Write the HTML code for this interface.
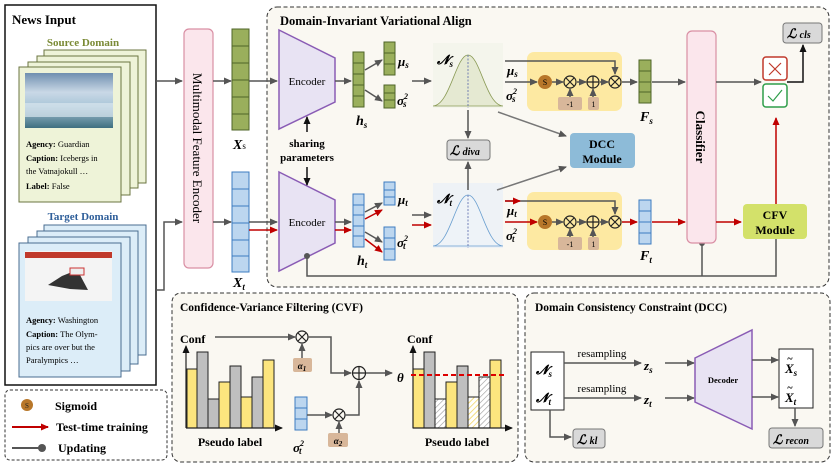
<!DOCTYPE html>
<html><head><meta charset="utf-8"><style>
html,body{margin:0;padding:0;background:#fff;}
svg{display:block;}
text{font-family:"Liberation Serif",serif;}
.b{font-weight:bold;}
.m{font-weight:bold;font-style:italic;}
</style></head><body>
<svg width="836" height="470" viewBox="0 0 836 470" xmlns="http://www.w3.org/2000/svg">
<defs>
<marker id="ag" markerWidth="8" markerHeight="8" refX="7" refY="4" orient="auto" markerUnits="userSpaceOnUse"><path d="M0,0.5 L8,4 L0,7.5 z" fill="#555"/></marker>
<marker id="ar" markerWidth="8" markerHeight="8" refX="7" refY="4" orient="auto" markerUnits="userSpaceOnUse"><path d="M0,0.5 L8,4 L0,7.5 z" fill="#c00000"/></marker>
<marker id="ak" markerWidth="8" markerHeight="8" refX="7" refY="4" orient="auto" markerUnits="userSpaceOnUse"><path d="M0,0.5 L8,4 L0,7.5 z" fill="#111"/></marker>
<linearGradient id="sky" x1="0" y1="0" x2="0" y2="1"><stop offset="0" stop-color="#6f8fb0"/><stop offset="0.35" stop-color="#c9d8e6"/><stop offset="0.6" stop-color="#a9c6d8"/><stop offset="1" stop-color="#3f6f80"/></linearGradient>
<pattern id="hg" width="4" height="4" patternUnits="userSpaceOnUse" patternTransform="rotate(45)"><rect width="4" height="4" fill="#fff"/><line x1="0" y1="0" x2="0" y2="4" stroke="#999" stroke-width="1.2"/></pattern>
<pattern id="hy" width="4" height="4" patternUnits="userSpaceOnUse" patternTransform="rotate(45)"><rect width="4" height="4" fill="#fff"/><line x1="0" y1="0" x2="0" y2="4" stroke="#f0d050" stroke-width="1.4"/></pattern>
</defs>

<rect x="5" y="5" width="151" height="380" fill="#fff" stroke="#111" stroke-width="1.5"/>
<text x="12" y="24" class="b" font-size="13">News Input</text>
<text x="83" y="46" class="b" font-size="11" fill="#7a8a35" text-anchor="middle">Source Domain</text>
<g fill="#eef3d8" stroke="#6b7540" stroke-width="1">
<rect x="44" y="50" width="102" height="133"/>
<rect x="37" y="56" width="101" height="132"/>
<rect x="28" y="62" width="102" height="133"/>
<rect x="19" y="67" width="102" height="135"/>
</g>
<rect x="25" y="73" width="88" height="55" fill="url(#sky)"/>
<rect x="25" y="103" width="88" height="14" fill="#d8e6ee" opacity="0.7"/>
<text x="26" y="147" font-size="8.5"><tspan class="b">Agency:</tspan> Guardian</text>
<text x="26" y="161" font-size="8.5"><tspan class="b">Caption:</tspan> Icebergs in</text>
<text x="26" y="174" font-size="8.5">the Vatnajokull …</text>
<text x="26" y="189" font-size="8.5"><tspan class="b">Label:</tspan> False</text>

<text x="83" y="220" class="b" font-size="11" fill="#2f5f9a" text-anchor="middle">Target Domain</text>
<g fill="#dcedf8" stroke="#4a6d90" stroke-width="1">
<rect x="44" y="225" width="102" height="130"/>
<rect x="37" y="231" width="101" height="133"/>
<rect x="28" y="237" width="102" height="134"/>
<rect x="19" y="243" width="102" height="134"/>
</g>
<rect x="25" y="251" width="87" height="50" fill="#f4f4f4"/>
<rect x="25" y="252" width="87" height="6" fill="#c0392b"/>
<path d="M48,285 L62,276 L72,272 L80,275 L88,290 L70,289 Z" fill="#333"/>
<rect x="70" y="268" width="14" height="7" fill="#eee" stroke="#c33" stroke-width="1"/>
<text x="26" y="323" font-size="8.5"><tspan class="b">Agency:</tspan> Washington</text>
<text x="26" y="337" font-size="8.5"><tspan class="b">Caption:</tspan> The Olym-</text>
<text x="26" y="350" font-size="8.5">pics are over but  the</text>
<text x="26" y="363" font-size="8.5">Paralympics …</text>

<rect x="5" y="390" width="162" height="70" rx="5" fill="#fff" stroke="#333" stroke-dasharray="3,2"/>
<circle cx="27" cy="405" r="6" fill="#b8772a"/><text x="27" y="408" font-size="7" text-anchor="middle" fill="#222">S</text>
<text x="55" y="410" class="b" font-size="12">Sigmoid</text>
<line x1="12" y1="427" x2="48" y2="427" stroke="#c00000" stroke-width="2" marker-end="url(#ar)"/>
<text x="56" y="431" class="b" font-size="12">Test-time training</text>
<line x1="12" y1="448" x2="42" y2="448" stroke="#555" stroke-width="2"/><circle cx="42" cy="448" r="4" fill="#555"/>
<text x="58" y="452" class="b" font-size="12">Updating</text>

<line x1="156" y1="81" x2="182" y2="81" stroke="#555" stroke-width="1.5" marker-end="url(#ag)"/>
<polyline points="156,290 164,290 164,222 182,222" fill="none" stroke="#555" stroke-width="1.5" marker-end="url(#ag)"/>

<rect x="184" y="29" width="29" height="239" rx="5" fill="#fbe6ec" stroke="#d98fa4" stroke-width="1.2"/>
<text transform="translate(193,148) rotate(90)" font-size="13" text-anchor="middle">Multimodal Feature Encoder</text>

<g stroke="#4f6428" fill="#9aaf5c" stroke-width="1">
<rect x="232" y="29" width="17" height="17"/><rect x="232" y="46" width="17" height="17"/><rect x="232" y="63" width="17" height="17"/><rect x="232" y="80" width="17" height="17"/><rect x="232" y="97" width="17" height="17"/><rect x="232" y="114" width="17" height="16"/>
</g>
<g stroke="#3d7cc0" fill="#bcd6ef" stroke-width="1">
<rect x="232" y="172" width="17" height="17"/><rect x="232" y="189" width="17" height="17"/><rect x="232" y="206" width="17" height="17"/><rect x="232" y="223" width="17" height="17"/><rect x="232" y="240" width="17" height="16"/><rect x="232" y="256" width="17" height="16"/>
</g>
<text x="233" y="149" class="m" font-size="14">X<tspan font-size="9" font-style="normal" font-weight="normal">s</tspan></text>
<text x="233" y="287" class="m" font-size="14">X<tspan font-size="9" dy="3">t</tspan></text>
<line x1="213" y1="81" x2="231" y2="81" stroke="#555" stroke-width="1.5" marker-end="url(#ag)"/>
<line x1="213" y1="222" x2="231" y2="222" stroke="#555" stroke-width="1.5" marker-end="url(#ag)"/>

<rect x="267" y="7" width="562" height="280" rx="10" fill="#faf8f2" stroke="#333" stroke-dasharray="4,2.5"/>
<text x="280" y="25" class="b" font-size="12.5">Domain-Invariant Variational Align</text>
<line x1="249" y1="81" x2="277" y2="81" stroke="#555" stroke-width="1.5" marker-end="url(#ag)"/>
<line x1="249" y1="222" x2="277" y2="222" stroke="#555" stroke-width="1.5" marker-end="url(#ag)"/>
<line x1="249" y1="230" x2="277" y2="230" stroke="#c00000" stroke-width="1.5" marker-end="url(#ar)"/>

<polygon points="279,30 335,58 335,102 279,129" fill="#e8e3f3" stroke="#8a5cb5" stroke-width="1.5"/>
<text x="307" y="85" font-size="11" text-anchor="middle">Encoder</text>
<polygon points="279,172 335,200 335,243 279,271" fill="#e8e3f3" stroke="#8a5cb5" stroke-width="1.5"/>
<text x="307" y="226" font-size="11" text-anchor="middle">Encoder</text>
<text x="307" y="147" class="b" font-size="11" text-anchor="middle">sharing</text>
<text x="307" y="161" class="b" font-size="11" text-anchor="middle">parameters</text>
<line x1="307" y1="132" x2="307" y2="117" stroke="#111" stroke-width="1.5" marker-end="url(#ak)"/>
<line x1="307" y1="167" x2="307" y2="185" stroke="#111" stroke-width="1.5" marker-end="url(#ak)"/>

<line x1="335" y1="81" x2="351" y2="81" stroke="#555" stroke-width="1.5" marker-end="url(#ag)"/>
<line x1="335" y1="222" x2="351" y2="222" stroke="#555" stroke-width="1.5" marker-end="url(#ag)"/>
<line x1="335" y1="230" x2="351" y2="230" stroke="#c00000" stroke-width="1.5" marker-end="url(#ar)"/>

<g stroke="#4f6428" fill="#9aaf5c" stroke-width="1">
<rect x="353" y="52" width="11" height="11"/><rect x="353" y="63" width="11" height="11"/><rect x="353" y="74" width="11" height="11"/><rect x="353" y="85" width="11" height="11"/><rect x="353" y="96" width="11" height="11"/>
<rect x="384" y="42" width="11" height="11"/><rect x="384" y="53" width="11" height="11"/><rect x="384" y="64" width="11" height="11"/>
<rect x="384" y="85" width="11" height="8"/><rect x="384" y="93" width="11" height="7"/><rect x="384" y="100" width="11" height="8"/>
</g>
<line x1="365" y1="70" x2="382" y2="60" stroke="#555" stroke-width="1.5" marker-end="url(#ag)"/>
<line x1="365" y1="90" x2="382" y2="101" stroke="#555" stroke-width="1.5" marker-end="url(#ag)"/>
<text x="398" y="66" class="m" font-size="13">μ<tspan font-size="9" dy="2">s</tspan></text>
<text x="397" y="105" class="m" font-size="13">σ<tspan font-size="8" dy="-6">2</tspan><tspan font-size="9" dx="-5" dy="8">s</tspan></text>
<text x="356" y="125" class="m" font-size="14">h<tspan font-size="9" dy="3">s</tspan></text>

<g stroke="#3d7cc0" fill="#bcd6ef" stroke-width="1">
<rect x="353" y="194" width="11" height="11"/><rect x="353" y="205" width="11" height="10"/><rect x="353" y="215" width="11" height="11"/><rect x="353" y="226" width="11" height="10"/><rect x="353" y="236" width="11" height="11"/>
<rect x="384" y="182" width="11" height="8"/><rect x="384" y="190" width="11" height="7"/><rect x="384" y="197" width="11" height="8"/>
<rect x="384" y="227" width="11" height="11"/><rect x="384" y="238" width="11" height="11"/><rect x="384" y="249" width="11" height="11"/>
</g>
<line x1="365" y1="212" x2="382" y2="203" stroke="#555" stroke-width="1.5" marker-end="url(#ag)"/>
<line x1="365" y1="219" x2="382" y2="210" stroke="#c00000" stroke-width="1.5" marker-end="url(#ar)"/>
<line x1="365" y1="232" x2="382" y2="242" stroke="#555" stroke-width="1.5" marker-end="url(#ag)"/>
<line x1="365" y1="239" x2="382" y2="252" stroke="#c00000" stroke-width="1.5" marker-end="url(#ar)"/>
<text x="398" y="204" class="m" font-size="13">μ<tspan font-size="9" dy="2">t</tspan></text>
<text x="397" y="247" class="m" font-size="13">σ<tspan font-size="8" dy="-6">2</tspan><tspan font-size="9" dx="-5" dy="8">t</tspan></text>
<text x="357" y="265" class="m" font-size="14">h<tspan font-size="9" dy="3">t</tspan></text>

<polyline points="307,256 307,276 776,276 776,239" fill="none" stroke="#555" stroke-width="1.5"/>
<circle cx="307" cy="256" r="3" fill="#555"/>
<line x1="702" y1="243" x2="702" y2="276" stroke="#555" stroke-width="1.5"/>
<circle cx="702" cy="243" r="3" fill="#555"/>

<line x1="412" y1="81" x2="431" y2="81" stroke="#555" stroke-width="1.5" marker-end="url(#ag)"/>
<line x1="412" y1="215" x2="431" y2="215" stroke="#555" stroke-width="1.5" marker-end="url(#ag)"/>
<line x1="412" y1="225" x2="431" y2="225" stroke="#c00000" stroke-width="1.5" marker-end="url(#ar)"/>
<rect x="433" y="43" width="70" height="65" fill="#f4f5ec"/>
<path d="M433,106 C450,105 456,55 468,55 C480,55 486,105 503,106 Z" fill="#e5e9d2" stroke="#8a9a55" stroke-width="0.8"/>
<line x1="468" y1="55" x2="468" y2="108" stroke="#5566aa" stroke-dasharray="2,1.5" stroke-width="0.8"/>
<text x="437" y="64" class="m" font-size="13">𝓝<tspan font-size="9" dy="3">s</tspan></text>
<rect x="433" y="183" width="70" height="65" fill="#eef2f6"/>
<path d="M433,246 C450,245 456,195 468,195 C480,195 486,245 503,246 Z" fill="#eef3f8" stroke="#6a9fd0" stroke-width="0.8"/>
<line x1="468" y1="195" x2="468" y2="248" stroke="#5566aa" stroke-dasharray="2,1.5" stroke-width="0.8"/>
<text x="437" y="203" class="m" font-size="13">𝓝<tspan font-size="9" dy="3">t</tspan></text>
<line x1="468" y1="110" x2="468" y2="138" stroke="#555" stroke-width="1.5" marker-end="url(#ag)"/>
<line x1="468" y1="190" x2="468" y2="162" stroke="#555" stroke-width="1.5" marker-end="url(#ag)"/>
<rect x="447" y="140" width="43" height="20" rx="3" fill="#d9d9d9" stroke="#777"/>
<text x="450" y="155" class="m" font-size="13">ℒ <tspan font-size="10">diva</tspan></text>
<line x1="498" y1="112" x2="566" y2="136" stroke="#777" stroke-width="1.5" marker-end="url(#ag)"/>
<line x1="497" y1="190" x2="566" y2="167" stroke="#777" stroke-width="1.5" marker-end="url(#ag)"/>
<rect x="570" y="133" width="65" height="35" rx="4" fill="#8dbbd8"/>
<text x="602" y="148" class="b" font-size="12" text-anchor="middle">DCC</text>
<text x="602" y="163" class="b" font-size="12" text-anchor="middle">Module</text>

<rect x="527" y="52" width="95" height="59" rx="7" fill="#fde9a2"/>
<rect x="527" y="192" width="95" height="58" rx="7" fill="#fde9a2"/>
<polyline points="505,61 615,61 615,74" fill="none" stroke="#555" stroke-width="1.5" marker-end="url(#ag)"/>
<line x1="505" y1="82" x2="537" y2="82" stroke="#555" stroke-width="1.5" marker-end="url(#ag)"/>
<line x1="552" y1="82" x2="563" y2="82" stroke="#555" stroke-width="1.5" marker-end="url(#ag)"/>
<line x1="577" y1="82" x2="586" y2="82" stroke="#555" stroke-width="1.5" marker-end="url(#ag)"/>
<line x1="600" y1="82" x2="608" y2="82" stroke="#555" stroke-width="1.5" marker-end="url(#ag)"/>
<line x1="622" y1="82" x2="637" y2="82" stroke="#555" stroke-width="1.5" marker-end="url(#ag)"/>
<circle cx="545" cy="82" r="7" fill="#b8772a"/><text x="545" y="85" font-size="8" text-anchor="middle">S</text>
<g fill="none" stroke="#222" stroke-width="1.2">
<circle cx="570" cy="82" r="6"/><path d="M566,78 L574,86 M574,78 L566,86"/>
<circle cx="593" cy="82" r="6"/><path d="M587,82 L599,82 M593,76 L593,88"/>
<circle cx="615" cy="82" r="6"/><path d="M611,78 L619,86 M619,78 L611,86"/>
</g>
<rect x="558" y="97" width="24" height="13" rx="2" fill="#d8b79a"/><text x="570" y="107" font-size="8" text-anchor="middle">-1</text>
<rect x="588" y="97" width="11" height="13" rx="2" fill="#d8b79a"/><text x="593.5" y="107" font-size="8" text-anchor="middle">1</text>
<line x1="570" y1="97" x2="570" y2="89" stroke="#555" stroke-width="1.5" marker-end="url(#ag)"/>
<line x1="593" y1="97" x2="593" y2="89" stroke="#555" stroke-width="1.5" marker-end="url(#ag)"/>
<text x="507" y="75" class="m" font-size="13">μ<tspan font-size="9" dy="2">s</tspan></text>
<text x="506" y="100" class="m" font-size="13">σ<tspan font-size="8" dy="-6">2</tspan><tspan font-size="9" dx="-5" dy="8">s</tspan></text>
<polyline points="505,201 615,201 615,214" fill="none" stroke="#555" stroke-width="1.5" marker-end="url(#ag)"/>
<line x1="505" y1="201" x2="520" y2="201" stroke="#c00000" stroke-width="1.5" marker-end="url(#ar)"/>
<line x1="505" y1="222" x2="537" y2="222" stroke="#c00000" stroke-width="1.5" marker-end="url(#ar)"/>
<line x1="552" y1="222" x2="563" y2="222" stroke="#555" stroke-width="1.5" marker-end="url(#ag)"/>
<line x1="577" y1="222" x2="586" y2="222" stroke="#555" stroke-width="1.5" marker-end="url(#ag)"/>
<line x1="600" y1="222" x2="608" y2="222" stroke="#555" stroke-width="1.5" marker-end="url(#ag)"/>
<line x1="622" y1="222" x2="637" y2="222" stroke="#c00000" stroke-width="1.5" marker-end="url(#ar)"/>
<circle cx="545" cy="222" r="7" fill="#b8772a"/><text x="545" y="225" font-size="8" text-anchor="middle">S</text>
<g fill="none" stroke="#222" stroke-width="1.2">
<circle cx="570" cy="222" r="6"/><path d="M566,218 L574,226 M574,218 L566,226"/>
<circle cx="593" cy="222" r="6"/><path d="M587,222 L599,222 M593,216 L593,228"/>
<circle cx="615" cy="222" r="6"/><path d="M611,218 L619,226 M619,218 L611,226"/>
</g>
<rect x="558" y="237" width="24" height="13" rx="2" fill="#d8b79a"/><text x="570" y="247" font-size="8" text-anchor="middle">-1</text>
<rect x="588" y="237" width="11" height="13" rx="2" fill="#d8b79a"/><text x="593.5" y="247" font-size="8" text-anchor="middle">1</text>
<line x1="570" y1="237" x2="570" y2="229" stroke="#555" stroke-width="1.5" marker-end="url(#ag)"/>
<line x1="593" y1="237" x2="593" y2="229" stroke="#555" stroke-width="1.5" marker-end="url(#ag)"/>
<text x="507" y="215" class="m" font-size="13">μ<tspan font-size="9" dy="2">t</tspan></text>
<text x="506" y="240" class="m" font-size="13">σ<tspan font-size="8" dy="-6">2</tspan><tspan font-size="9" dx="-5" dy="8">t</tspan></text>

<g stroke="#4f6428" fill="#9aaf5c" stroke-width="1">
<rect x="639" y="60" width="12" height="11"/><rect x="639" y="71" width="12" height="11"/><rect x="639" y="82" width="12" height="10"/><rect x="639" y="92" width="12" height="11"/>
</g>
<g stroke="#3d7cc0" fill="#bcd6ef" stroke-width="1">
<rect x="639" y="200" width="12" height="11"/><rect x="639" y="211" width="12" height="11"/><rect x="639" y="222" width="12" height="11"/><rect x="639" y="233" width="12" height="11"/>
</g>
<text x="640" y="121" class="m" font-size="14">F<tspan font-size="9" dy="3">s</tspan></text>
<text x="640" y="260" class="m" font-size="14">F<tspan font-size="9" dy="3">t</tspan></text>
<line x1="652" y1="82" x2="685" y2="82" stroke="#555" stroke-width="1.5" marker-end="url(#ag)"/>
<line x1="652" y1="222" x2="685" y2="222" stroke="#c00000" stroke-width="1.5" marker-end="url(#ar)"/>

<rect x="687" y="31" width="29" height="212" rx="5" fill="#fbe6ec" stroke="#d98fa4" stroke-width="1.2"/>
<text transform="translate(696,137) rotate(90)" class="b" font-size="13" text-anchor="middle">Classifier</text>
<line x1="716" y1="82" x2="761" y2="82" stroke="#555" stroke-width="1.5" marker-end="url(#ag)"/>
<line x1="716" y1="222" x2="741" y2="222" stroke="#c00000" stroke-width="1.5" marker-end="url(#ar)"/>
<rect x="763" y="57" width="24" height="23" rx="3" fill="#fff" stroke="#c0392b" stroke-width="1.5"/>
<path d="M769,63 L781,75 M781,63 L769,75" stroke="#c0392b" stroke-width="1.2"/>
<rect x="763" y="84" width="24" height="23" rx="3" fill="#fff" stroke="#2e9e4a" stroke-width="1.5"/>
<path d="M768,96 L773,101 L782,90" fill="none" stroke="#2e9e4a" stroke-width="1.2"/>
<polyline points="787,82 803,82 803,45" fill="none" stroke="#111" stroke-width="1.5" marker-end="url(#ak)"/>
<rect x="783" y="23" width="39" height="20" rx="3" fill="#d9d9d9" stroke="#777"/>
<text x="787" y="38" class="m" font-size="13">ℒ <tspan font-size="10">cls</tspan></text>
<rect x="743" y="204" width="64" height="35" rx="4" fill="#d3e16a"/>
<text x="775" y="219" class="b" font-size="12" text-anchor="middle">CFV</text>
<text x="775" y="234" class="b" font-size="12" text-anchor="middle">Module</text>
<line x1="776" y1="204" x2="776" y2="118" stroke="#c00000" stroke-width="1.5" marker-end="url(#ar)"/>

<rect x="172" y="293" width="346" height="169" rx="9" fill="#faf8f2" stroke="#333" stroke-dasharray="4,2.5"/>
<text x="180" y="311" class="b" font-size="11.5">Confidence-Variance Filtering (CVF)</text>
<text x="180" y="343" class="b" font-size="12">Conf</text>
<g stroke="#222" stroke-width="1">
<rect x="187" y="369" width="10" height="59" fill="#fce57e"/>
<rect x="197" y="352" width="11" height="76" fill="#bfbfbf"/>
<rect x="208" y="399" width="11" height="29" fill="#bfbfbf"/>
<rect x="219" y="382" width="11" height="46" fill="#fce57e"/>
<rect x="230" y="366" width="11" height="62" fill="#bfbfbf"/>
<rect x="241" y="397" width="11" height="31" fill="#fce57e"/>
<rect x="252" y="377" width="11" height="51" fill="#bfbfbf"/>
<rect x="263" y="360" width="11" height="68" fill="#fce57e"/>
</g>
<line x1="186" y1="428" x2="186" y2="346" stroke="#222" stroke-width="1.2" marker-end="url(#ak)"/>
<line x1="186" y1="428" x2="282" y2="428" stroke="#222" stroke-width="1.2" marker-end="url(#ak)"/>
<text x="230" y="446" class="b" font-size="12" text-anchor="middle">Pseudo label</text>
<line x1="215" y1="337" x2="295" y2="337" stroke="#555" stroke-width="1.5" marker-end="url(#ag)"/>
<g fill="none" stroke="#222" stroke-width="1.2">
<circle cx="302" cy="337" r="6"/><path d="M298,333 L306,341 M306,333 L298,341"/>
<circle cx="339" cy="415" r="6"/><path d="M335,411 L343,419 M343,411 L335,419"/>
<circle cx="359" cy="373" r="6.5"/><path d="M352.5,373 L365.5,373 M359,366.5 L359,379.5"/>
</g>
<rect x="293" y="358" width="19" height="14" rx="2" fill="#d8b79a"/><text x="302" y="369" class="m" font-size="9" text-anchor="middle">α<tspan font-size="7" dy="2">1</tspan></text>
<line x1="302" y1="358" x2="302" y2="344" stroke="#555" stroke-width="1.5" marker-end="url(#ag)"/>
<polyline points="308,337 331,337 331,373 351,373" fill="none" stroke="#555" stroke-width="1.5" marker-end="url(#ag)"/>
<g stroke="#3d7cc0" fill="#bcd6ef" stroke-width="1">
<rect x="295" y="397" width="12" height="11"/><rect x="295" y="408" width="12" height="11"/><rect x="295" y="419" width="12" height="11"/>
</g>
<text x="293" y="452" class="m" font-size="13">σ<tspan font-size="8" dy="-6">2</tspan><tspan font-size="9" dx="-5" dy="8">t</tspan></text>
<line x1="307" y1="415" x2="332" y2="415" stroke="#555" stroke-width="1.5" marker-end="url(#ag)"/>
<rect x="328" y="433" width="20" height="14" rx="2" fill="#d8b79a"/><text x="338" y="444" class="m" font-size="9" text-anchor="middle">α<tspan font-size="7" dy="2">2</tspan></text>
<line x1="339" y1="433" x2="339" y2="422" stroke="#555" stroke-width="1.5" marker-end="url(#ag)"/>
<polyline points="345,415 359,415 359,381" fill="none" stroke="#555" stroke-width="1.5" marker-end="url(#ag)"/>
<line x1="366" y1="373" x2="392" y2="373" stroke="#555" stroke-width="1.5" marker-end="url(#ag)"/>
<text x="397" y="382" class="m" font-size="13">θ</text>
<text x="407" y="343" class="b" font-size="12">Conf</text>
<g stroke="#222" stroke-width="1">
<rect x="413" y="369" width="11" height="59" fill="#fce57e"/>
<rect x="424" y="352" width="11" height="76" fill="#bfbfbf"/>
<rect x="435" y="399" width="11" height="29" fill="url(#hg)"/>
<rect x="446" y="382" width="11" height="46" fill="#fce57e"/>
<rect x="457" y="366" width="11" height="62" fill="#bfbfbf"/>
<rect x="468" y="397" width="11" height="31" fill="url(#hy)"/>
<rect x="479" y="377" width="11" height="51" fill="url(#hg)"/>
<rect x="490" y="360" width="11" height="68" fill="#fce57e"/>
</g>
<line x1="413" y1="428" x2="413" y2="346" stroke="#222" stroke-width="1.2" marker-end="url(#ak)"/>
<line x1="413" y1="428" x2="512" y2="428" stroke="#222" stroke-width="1.2" marker-end="url(#ak)"/>
<line x1="411" y1="375" x2="504" y2="375" stroke="#d00" stroke-width="2" stroke-dasharray="5,3"/>
<text x="457" y="446" class="b" font-size="12" text-anchor="middle">Pseudo label</text>

<rect x="525" y="293" width="305" height="169" rx="9" fill="#faf8f2" stroke="#333" stroke-dasharray="4,2.5"/>
<text x="535" y="311" class="b" font-size="11.5">Domain Consistency Constraint (DCC)</text>
<rect x="531" y="352" width="33" height="58" fill="#fff" stroke="#222"/>
<text x="536" y="374" class="m" font-size="13">𝓝<tspan font-size="9" dy="3">s</tspan></text>
<text x="536" y="402" class="m" font-size="13">𝓝<tspan font-size="9" dy="3">t</tspan></text>
<text x="602" y="357" font-size="11" text-anchor="middle">resampling</text>
<text x="602" y="392" font-size="11" text-anchor="middle">resampling</text>
<line x1="564" y1="363" x2="641" y2="363" stroke="#555" stroke-width="1.5" marker-end="url(#ag)"/>
<line x1="564" y1="398" x2="641" y2="398" stroke="#555" stroke-width="1.5" marker-end="url(#ag)"/>
<text x="644" y="370" class="m" font-size="13">z<tspan font-size="9" dy="3">s</tspan></text>
<text x="644" y="404" class="m" font-size="13">z<tspan font-size="9" dy="3">t</tspan></text>
<line x1="665" y1="363" x2="694" y2="363" stroke="#555" stroke-width="1.5" marker-end="url(#ag)"/>
<line x1="665" y1="398" x2="694" y2="398" stroke="#555" stroke-width="1.5" marker-end="url(#ag)"/>
<polygon points="695,358 752,330 752,429 695,402" fill="#e8e3f3" stroke="#8a5cb5" stroke-width="1.5"/>
<text x="723" y="383" class="b" font-size="8.5" text-anchor="middle">Decoder</text>
<line x1="752" y1="360" x2="778" y2="360" stroke="#555" stroke-width="1.5" marker-end="url(#ag)"/>
<line x1="752" y1="397" x2="778" y2="397" stroke="#555" stroke-width="1.5" marker-end="url(#ag)"/>
<rect x="779" y="349" width="34" height="59" fill="#fff" stroke="#222"/>
<text x="785" y="373" class="m" font-size="13">X<tspan font-size="9" dy="3">s</tspan></text>
<text x="787" y="362" class="m" font-size="10">~</text>
<text x="785" y="402" class="m" font-size="13">X<tspan font-size="9" dy="3">t</tspan></text>
<text x="787" y="391" class="m" font-size="10">~</text>
<line x1="795" y1="408" x2="795" y2="426" stroke="#555" stroke-width="1.5" marker-end="url(#ag)"/>
<rect x="769" y="428" width="54" height="20" rx="3" fill="#d9d9d9" stroke="#777"/>
<text x="773" y="444" class="m" font-size="13">ℒ <tspan font-size="10">recon</tspan></text>
<polyline points="550,410 550,437 571,437" fill="none" stroke="#555" stroke-width="1.5" marker-end="url(#ag)"/>
<rect x="573" y="429" width="32" height="19" rx="3" fill="#d9d9d9" stroke="#777"/>
<text x="577" y="444" class="m" font-size="13">ℒ <tspan font-size="10">kl</tspan></text>
</svg>
</body></html>
